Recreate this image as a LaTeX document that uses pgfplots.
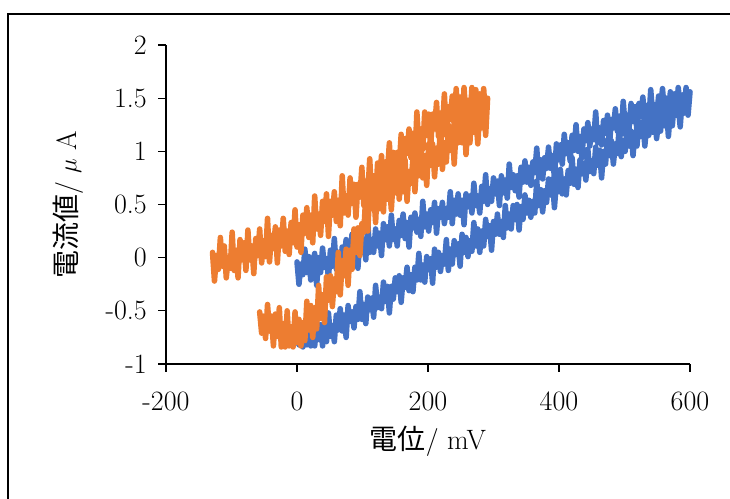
\documentclass[border=0pt]{standalone}
\usepackage{fontspec}
\usepackage{pgfplots}
\pgfplotsset{compat=1.18}
\newfontfamily\jp{Noto Sans CJK JP}
\definecolor{cvblue}{HTML}{4472C4}
\definecolor{cvorange}{HTML}{ED7D31}
\begin{document}
\begin{tikzpicture}[x=1bp,y=1bp]
\path[use as bounding box] (0,0) rectangle (730,499);
\draw[line width=2bp] (8,-5) -- (8,484.5) -- (740,484.5);
\begin{axis}[
  at={(166bp,135bp)}, anchor=south west,
  scale only axis, width=524bp, height=319bp,
  xmin=-200, xmax=600, ymin=-1, ymax=2,
  axis lines=left, axis line style={-, black, line width=1.3bp},
  xtick={-200,0,200,400,600}, xticklabels={-200,0,200,400,600},
  ytick={-1,-0.5,0,0.5,1,1.5,2}, yticklabels={-1,-0.5,0,0.5,1,1.5,2},
  tick align=outside, major tick length=8bp,
  tick style={black, line width=1.3bp},
  tick label style={font=\fontsize{28bp}{33bp}\selectfont, inner sep=0pt},
  xticklabel style={anchor=north, yshift=-20bp},
  yticklabel style={anchor=east, xshift=-11bp},
  label style={font=\fontsize{28bp}{33bp}\selectfont},
  xlabel={{\jp 電位}/ mV},
  ylabel={{\jp 電流値}/ $\mu$ A},
  xlabel style={at={(axis description cs:0.5,-0.2414)}, anchor=center},
  ylabel style={at={(axis description cs:-0.187,0.5)}, anchor=center},
  clip=false,
]
\addplot[cvblue, line width=5.5bp, line join=round, line cap=round, mark=none] coordinates {
(0,-0.04)(3,-0.25)(6,-0.06)(9,-0.16)(12,0.08)(15,-0.14)(18,0.01)(21,-0.21)(24,-0.05)(27,0.04)(30,-0.26)(33,0.00)(36,-0.14)(39,0.09)(42,-0.09)(45,-0.01)(48,-0.19)(51,0.07)(54,-0.08)(57,0.18)(60,-0.11)(63,0.05)(66,-0.13)(69,0.10)(72,0.00)(75,0.17)(78,-0.06)(81,0.02)(84,0.22)(87,0.01)(90,0.12)(93,-0.10)(96,0.19)(99,0.05)
(102,0.17)(105,-0.02)(108,0.33)(111,0.05)(114,0.17)(117,0.05)(120,0.27)(123,0.11)(126,0.23)(129,0.02)(132,0.32)(135,0.17)(138,0.29)(141,0.11)(144,0.40)(147,0.17)(150,0.27)(153,0.11)(156,0.35)(159,0.21)(162,0.41)(165,0.18)(168,0.33)(171,0.10)(174,0.38)(177,0.28)(180,0.42)(183,0.24)(186,0.36)(189,0.20)(192,0.53)(195,0.29)(198,0.41)
(201,0.25)(204,0.45)(207,0.33)(210,0.52)(213,0.23)(216,0.46)(219,0.38)(222,0.52)(225,0.32)(228,0.46)(231,0.38)(234,0.62)(237,0.32)(240,0.54)(243,0.41)(246,0.60)(249,0.40)(252,0.54)(255,0.31)(258,0.60)(261,0.48)(264,0.58)(267,0.42)(270,0.70)(273,0.49)(276,0.58)(279,0.42)(282,0.67)(285,0.53)(288,0.78)(291,0.50)(294,0.65)(297,0.53)
(300,0.75)(303,0.60)(306,0.72)(309,0.49)(312,0.77)(315,0.61)(318,0.73)(321,0.56)(324,0.88)(327,0.66)(330,0.78)(333,0.63)(336,0.77)(339,0.57)(342,0.85)(345,0.71)(348,0.91)(351,0.71)(354,0.85)(357,0.68)(360,0.90)(363,0.80)(366,1.03)(369,0.75)(372,0.92)(375,0.74)(378,0.94)(381,0.84)(384,1.04)(387,0.84)(390,0.96)(393,0.75)(396,1.07)(399,0.92)
(402,1.06)(405,0.88)(408,1.16)(411,0.98)(414,1.08)(417,0.91)(420,1.15)(423,1.01)(426,1.25)(429,1.00)(432,1.14)(435,0.94)(438,1.21)(441,1.10)(444,1.27)(447,1.05)(450,1.21)(453,1.11)(456,1.37)(459,1.08)(462,1.22)(465,1.06)(468,1.29)(471,1.17)(474,1.34)(477,1.06)(480,1.30)(483,1.22)(486,1.40)(489,1.19)(492,1.33)(495,1.16)(498,1.47)
(501,1.24)(504,1.34)(507,1.22)(510,1.45)(513,1.28)(516,1.42)(519,1.19)(522,1.45)(525,1.33)(528,1.51)(531,1.28)(534,1.43)(537,1.26)(540,1.58)(543,1.34)(546,1.44)(549,1.31)(552,1.52)(555,1.38)(558,1.59)(561,1.36)(564,1.50)(567,1.31)(570,1.56)(573,1.43)(576,1.54)(579,1.34)(582,1.60)(585,1.42)(588,1.53)(591,1.38)(594,1.60)(597,1.42)(600,1.56)
(597,1.34)(594,1.57)(591,1.36)(588,1.48)(585,1.23)(582,1.44)(579,1.34)(576,1.48)(573,1.24)(570,1.38)(567,1.14)(564,1.41)(561,1.24)(558,1.44)(555,1.19)(552,1.29)(549,1.12)(546,1.32)(543,1.18)(540,1.41)(537,1.15)(534,1.25)(531,1.05)(528,1.28)(525,1.14)(522,1.27)(519,1.05)(516,1.18)(513,0.96)(510,1.19)(507,1.05)(504,1.23)(501,1.00)
(498,1.10)(495,0.95)(492,1.23)(489,0.98)(486,1.07)(483,0.88)(480,1.10)(477,0.96)(474,1.11)(471,0.88)(468,1.00)(465,0.75)(462,1.01)(459,0.87)(456,1.04)(453,0.79)(450,0.91)(447,0.81)(444,1.02)(441,0.73)(438,0.89)(435,0.79)(432,0.92)(429,0.66)(426,0.83)(423,0.69)(420,0.94)(417,0.70)(414,0.82)(411,0.59)(408,0.74)(405,0.60)(402,0.83)
(399,0.62)(396,0.71)(393,0.47)(390,0.74)(387,0.59)(384,0.74)(381,0.52)(378,0.63)(375,0.43)(372,0.64)(369,0.49)(366,0.72)(363,0.42)(360,0.53)(357,0.38)(354,0.54)(351,0.42)(348,0.59)(345,0.36)(342,0.48)(339,0.26)(336,0.50)(333,0.36)(330,0.49)(327,0.27)(324,0.41)(321,0.28)(318,0.49)(315,0.19)(312,0.34)(309,0.22)(306,0.41)(303,0.22)
(300,0.34)(297,0.07)(294,0.30)(291,0.20)(288,0.36)(285,0.11)(282,0.25)(279,0.05)(276,0.27)(273,0.11)(270,0.33)(267,0.06)(264,0.16)(261,0.01)(258,0.19)(255,0.05)(252,0.22)(249,-0.08)(246,0.13)(243,0.03)(240,0.16)(237,-0.06)(234,0.08)(231,-0.12)(228,0.17)(225,-0.06)(222,0.02)(219,-0.13)(216,0.05)(213,-0.09)(210,0.08)(207,-0.24)(204,-0.01)(201,-0.11)
(198,0.01)(195,-0.23)(192,-0.07)(189,-0.21)(186,0.04)(183,-0.21)(180,-0.09)(177,-0.32)(174,-0.16)(171,-0.31)(168,-0.09)(165,-0.28)(162,-0.19)(159,-0.42)(156,-0.17)(153,-0.32)(150,-0.19)(147,-0.39)(144,-0.27)(141,-0.52)(138,-0.27)(135,-0.41)(132,-0.23)(129,-0.48)(126,-0.37)(123,-0.47)(120,-0.26)(117,-0.56)(114,-0.38)(111,-0.49)(108,-0.37)(105,-0.62)(102,-0.44)
(99,-0.58)(96,-0.32)(93,-0.58)(90,-0.46)(87,-0.66)(84,-0.51)(81,-0.60)(78,-0.45)(75,-0.75)(72,-0.54)(69,-0.69)(66,-0.48)(63,-0.68)(60,-0.54)(57,-0.79)(54,-0.64)(51,-0.74)(48,-0.52)(45,-0.79)(42,-0.65)(39,-0.83)(36,-0.63)(33,-0.77)(30,-0.62)(27,-0.83)(24,-0.69)(21,-0.83)(18,-0.62)(15,-0.82)(12,-0.72)(9,-0.84)(6,-0.69)(3,-0.82)(0,-0.72)
};
\addplot[cvorange, line width=5.5bp, line join=round, line cap=round, mark=none] coordinates {
(-129,0.05)(-126,-0.22)(-123,0.02)(-120,-0.11)(-117,0.19)(-114,-0.08)(-111,0.11)(-108,-0.19)(-105,0.00)(-102,-0.10)(-99,0.24)(-96,-0.12)(-93,0.07)(-90,-0.19)(-87,0.17)(-84,-0.02)(-81,0.14)(-78,-0.12)(-75,0.26)(-72,-0.02)(-69,0.11)(-66,-0.15)(-63,0.18)(-60,0.02)(-57,0.27)(-54,-0.05)(-51,0.16)
(-48,0.01)(-45,0.37)(-42,-0.04)(-39,0.21)(-36,0.09)(-33,0.29)(-30,-0.05)(-27,0.26)(-24,0.11)(-21,0.37)(-18,0.06)(-15,0.25)(-12,0.03)(-9,0.33)(-6,0.14)(-3,0.45)(0,0.10)(3,0.31)(6,0.05)(9,0.40)(12,0.23)(15,0.47)(18,0.19)(21,0.40)(24,0.14)(27,0.58)(30,0.27)(33,0.41)(36,0.21)(39,0.53)(42,0.34)(45,0.60)(48,0.20)
(51,0.53)(54,0.40)(57,0.62)(60,0.34)(63,0.54)(66,0.30)(69,0.77)(72,0.42)(75,0.58)(78,0.40)(81,0.75)(84,0.51)(87,0.69)(90,0.38)(93,0.69)(96,0.57)(99,0.85)(102,0.49)(105,0.72)(108,0.58)(111,0.93)(114,0.58)(117,0.77)(120,0.55)(123,0.89)(126,0.71)(129,0.96)(132,0.59)(135,0.90)(138,0.79)(141,1.08)(144,0.73)(147,0.99)
(150,0.73)(153,0.99)(156,0.85)(159,1.16)(162,0.77)(165,1.12)(168,0.98)(171,1.21)(174,0.94)(177,1.17)(180,0.92)(183,1.37)(186,1.06)(189,1.21)(192,1.02)(195,1.37)(198,1.15)(201,1.35)(204,1.03)(207,1.35)(210,1.21)(213,1.46)(216,1.14)(219,1.36)(222,1.21)(225,1.54)(228,1.15)(231,1.42)(234,1.30)(237,1.52)(240,1.24)
(243,1.59)(246,1.31)(249,1.51)(252,1.21)(255,1.60)(258,1.31)(261,1.48)(264,1.26)(267,1.60)(270,1.37)(273,1.58)(276,1.23)(279,1.54)(282,1.38)(285,1.59)(288,1.29)(291,1.50)
(288,1.15)(285,1.51)(282,1.22)(279,1.38)(276,1.07)(273,1.32)(270,1.18)(267,1.46)(264,1.08)(261,1.25)(258,0.97)(255,1.31)(252,1.08)(249,1.33)(246,1.08)(243,1.22)(240,0.88)(237,1.22)(234,1.01)(231,1.25)(228,0.90)(225,1.08)(222,0.83)(219,1.26)(216,0.88)(213,1.03)(210,0.76)(207,1.07)(204,0.87)(201,1.07)
(198,0.68)(195,0.96)(192,0.75)(189,1.07)(186,0.77)(183,0.92)(180,0.62)(177,0.93)(174,0.70)(171,0.81)(168,0.53)(165,0.92)(162,0.62)(159,0.76)(156,0.55)(153,0.88)(150,0.61)(147,0.76)(144,0.45)(141,0.70)(138,0.55)(135,0.84)(132,0.43)(129,0.63)(126,0.46)(123,0.73)(120,0.33)(117,0.62)(114,0.46)(111,0.62)(108,0.25)(105,0.59)(102,0.24)
(99,0.32)(96,0.02)(93,0.28)(90,0.05)(87,0.27)(84,-0.11)(81,0.07)(78,-0.26)(75,0.08)(72,-0.17)(69,-0.03)(66,-0.35)(63,0.05)(60,-0.32)(57,-0.20)(54,-0.46)(51,-0.17)(48,-0.40)(45,-0.18)(42,-0.61)(39,-0.35)(36,-0.57)(33,-0.26)(30,-0.67)(27,-0.47)(24,-0.75)(21,-0.45)(18,-0.68)(15,-0.41)(12,-0.78)(9,-0.61)(6,-0.83)(3,-0.58)
(0,-0.80)(-3,-0.51)(-6,-0.84)(-9,-0.65)(-12,-0.83)(-15,-0.50)(-18,-0.84)(-21,-0.62)(-24,-0.84)(-27,-0.47)(-30,-0.74)(-33,-0.53)(-36,-0.83)(-39,-0.55)(-42,-0.69)(-45,-0.44)(-48,-0.76)(-51,-0.55)(-54,-0.71)(-57,-0.51)
};
\end{axis}
\end{tikzpicture}
\end{document}
